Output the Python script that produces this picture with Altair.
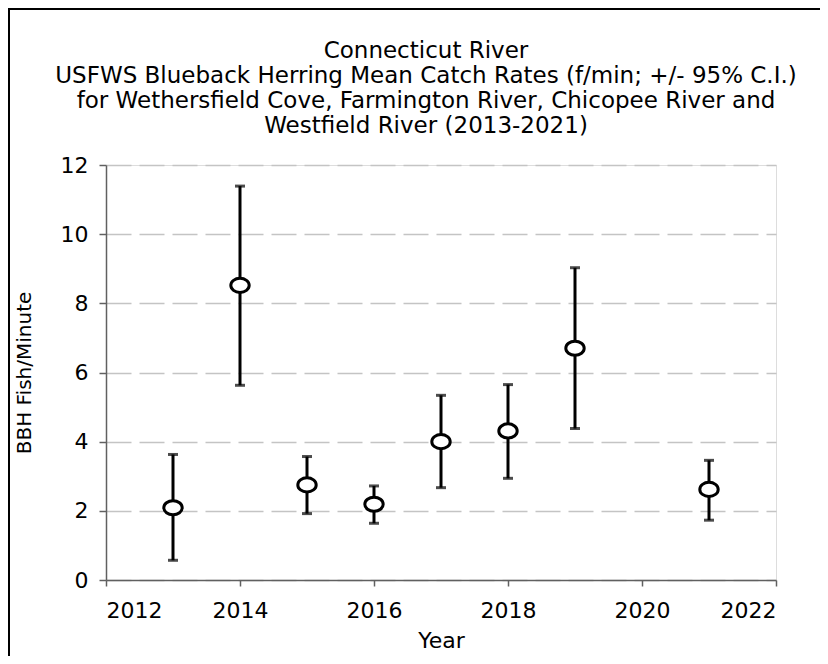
import altair as alt
import pandas as pd

years = [2013, 2014, 2015, 2016, 2017, 2018, 2019, 2021]
mean_rate = [2.09, 8.52, 2.75, 2.19, 4.00, 4.31, 6.70, 2.62]
ci_low = [0.57, 5.63, 1.92, 1.64, 2.67, 2.94, 4.38, 1.73]
ci_high = [3.63, 11.39, 3.57, 2.72, 5.34, 5.65, 9.03, 3.46]

x_ticks = [2012, 2014, 2016, 2018, 2020, 2022]
y_ticks = [0, 2, 4, 6, 8, 10, 12]

title_lines = [
    "Connecticut River",
    "USFWS Blueback Herring Mean Catch Rates (f/min; +/- 95% C.I.)",
    "for Wethersfield Cove, Farmington River, Chicopee River and",
    "Westfield River (2013-2021)",
]

df = pd.DataFrame({"Year": years, "mean": mean_rate, "low": ci_low, "high": ci_high})

FONT = "DejaVu Sans"
AX = "#606060"

xscale = alt.Scale(domain=[2012, 2022], nice=False, zero=False)
yscale = alt.Scale(domain=[0, 12], nice=False)

xaxis = alt.Axis(values=x_ticks, format="d", title="Year", grid=False,
                 tickSize=6, tickColor=AX, tickWidth=1.5, domainColor=AX, domainWidth=1.5,
                 labelPadding=14, labelFontSize=22, labelFont=FONT, labelColor="black",
                 titleFontSize=22, titleFont=FONT, titleFontWeight="normal", titleColor="black",
                 titlePadding=9)
yaxis = alt.Axis(values=y_ticks, title="BBH Fish/Minute", grid=True,
                 gridDash=[25, 8], gridColor="#c4c4c4", gridWidth=1.3,
                 tickSize=7, tickColor=AX, tickWidth=1.5, domainColor=AX, domainWidth=1.5,
                 labelPadding=11, labelFontSize=22, labelFont=FONT, labelColor="black",
                 titleFontSize=20, titleFont=FONT, titleFontWeight="normal", titleColor="black",
                 titlePadding=26)

base = alt.Chart(df)

bars = base.mark_rule(color="black", strokeWidth=3).encode(
    x=alt.X("Year:Q", scale=xscale, axis=xaxis),
    y=alt.Y("low:Q", scale=yscale, axis=yaxis),
    y2="high:Q",
)
cap_low = base.mark_tick(color="black", thickness=3, size=10, orient="horizontal").encode(
    x="Year:Q", y="low:Q")
cap_high = base.mark_tick(color="black", thickness=3, size=10, orient="horizontal").encode(
    x="Year:Q", y="high:Q")
points = base.mark_point(
    shape="M-1.3,0A1.3,1 0 1,1 1.3,0A1.3,1 0 1,1 -1.3,0Z",
    size=200, filled=True, fill="white", stroke="black", strokeWidth=3, opacity=1,
).encode(x="Year:Q", y="mean:Q")

frame = pd.DataFrame({"k": [0]})
left_border = alt.Chart(frame).mark_rule(color="black", strokeWidth=2).encode(
    x=alt.value(-97), y=alt.value(-157), y2=alt.value(491))
top_border = alt.Chart(frame).mark_rule(color="black", strokeWidth=2).encode(
    x=alt.value(-98), x2=alt.value(714), y=alt.value(-156))

chart = alt.layer(bars, cap_low, cap_high, points, left_border, top_border).properties(
    width=670, height=415,
    autosize=alt.AutoSizeParams(type="none"),
    padding={"left": 98, "top": 157, "right": 44, "bottom": 76},
    title=alt.TitleParams(text=title_lines, font=FONT, fontSize=23, fontWeight="normal",
                          color="black", anchor="middle", dx=-15, lineHeight=25,
                          baseline="bottom", offset=-154),
).configure_view(stroke=AX, strokeWidth=1.5).configure(background="white")

chart.save("out.html", embed_options={"renderer": "svg", "actions": False})
